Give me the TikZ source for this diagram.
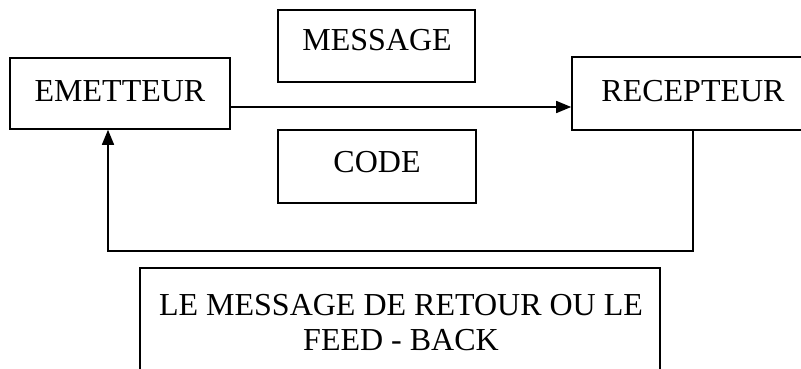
\documentclass[tikz,border=0pt]{standalone}
\usepackage{fontspec}
\setmainfont{Liberation Serif}
\usetikzlibrary{arrows.meta}
\begin{document}
\begin{tikzpicture}[x=1pt,y=-1pt,
  box/.style={draw, line width=1.6pt, inner sep=0pt, fill=none},
  lbl/.style={font=\fontsize{32}{37}\selectfont, anchor=base, inner sep=0pt},
  link/.style={line width=1.6pt},
  tip/.style={-{Triangle[length=15pt,width=12pt]}}]
\useasboundingbox (0,0) rectangle (801,369);
\clip (0,0) rectangle (801,369);

% boxes
\node[box, minimum width=220pt, minimum height=71pt] (em) at (120,93.5) {};
\node[box, minimum width=242pt, minimum height=73pt] (rec) at (693,93.5) {};
\node[box, minimum width=197pt, minimum height=72pt] (msg) at (376.5,46) {};
\node[box, minimum width=198pt, minimum height=73pt] (code) at (377,166.5) {};
\node[box, minimum width=520pt, minimum height=132pt] (fb) at (400,334) {};

% texts
\node[lbl] (emt) at (120,101) {EMETTEUR};
\node[lbl] (rect) at (693,101) {RECEPTEUR};
\node[lbl] (msgt) at (377,51) {MESSAGE};
\node[lbl] (codet) at (377,172) {CODE};
\node[lbl] (fbt1) at (401,315) {LE MESSAGE DE RETOUR OU LE};
\node[lbl] (fbt2) at (401,350) {FEED - BACK};

% message path and feedback loop
\draw[link, tip] ([yshift=-13.5pt]em.east) -- ([yshift=-13.5pt]rec.west);
\coordinate (fbr) at (693,251);
\coordinate (fbl) at (108,251);
\draw[link, tip] (rec.south) -- (fbr) -- (fbl) -- (fbl |- em.south);
\end{tikzpicture}
\end{document}
